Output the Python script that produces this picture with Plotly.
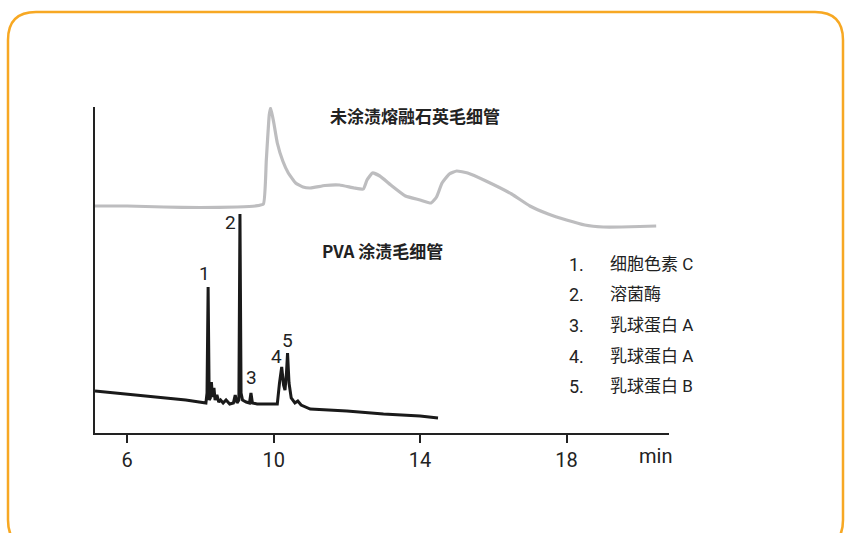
import plotly.graph_objects as go

# ---- data (time in min, detector signal in arbitrary units) ----
uncoated_time = [5.12, 6.0, 7.0, 8.0, 9.0, 9.5, 9.72, 9.80, 9.88, 9.92, 10.0, 10.1, 10.25, 10.4, 10.6,
                 10.8, 11.0, 11.4, 11.8, 12.2, 12.45, 12.55, 12.7, 12.9, 13.2, 13.6, 14.0, 14.3,
                 14.45, 14.6, 14.8, 15.0, 15.3, 15.8, 16.5, 17.0, 17.5, 18.0, 18.5, 19.0, 19.5,
                 20.0, 20.45]
uncoated_signal = [227, 227, 226, 225.5, 226, 227, 229, 273, 318, 325, 311, 290, 272, 260, 250,
                   246, 245, 247.5, 248, 245, 244, 253, 260, 257, 248, 237, 233, 230,
                   236, 250, 259, 262, 260, 252, 239, 227, 219, 213, 208, 206, 206,
                   206.5, 207]

pva_time = [5.12, 6.0, 7.0, 7.6, 8.15, 8.18, 8.21, 8.24, 8.27, 8.30, 8.33, 8.37, 8.40, 8.45, 8.50,
            8.55, 8.62, 8.70, 8.80, 8.90, 8.95, 9.00, 9.05, 9.08, 9.11, 9.15, 9.25, 9.34, 9.38,
            9.42, 9.55, 9.8, 10.1, 10.16, 10.22, 10.27, 10.31, 10.35, 10.38, 10.42, 10.48,
            10.58, 10.66, 10.75, 11.0, 12.0, 13.0, 14.0, 14.49]
pva_signal = [42, 39, 35, 33, 30, 40, 146, 33, 35, 51, 36, 45, 33, 38, 31,
              33, 30, 33, 29, 30, 38, 30, 33, 219, 40, 33, 31, 30, 40,
              30, 29, 29, 29, 50, 66, 48, 43, 60, 80, 50, 35,
              30, 32, 28, 24, 22, 19, 17, 15]

peak_labels = ["1", "2", "3", "4", "5"]
peak_label_time = [8.12, 8.83, 9.40, 10.09, 10.39]
peak_label_signal = [160, 211, 56, 77, 93]

legend_numbers = ["1.", "2.", "3.", "4.", "5."]
legend_names = ["细胞色素 C", "溶菌酶", "乳球蛋白 A", "乳球蛋白 A", "乳球蛋白 B"]

title_uncoated = "未涂渍熔融石英毛细管"
title_pva = "PVA 涂渍毛细管"
x_ticks = [6, 10, 14, 18]
x_unit = "min"

# ---- layout geometry ----
W, H = 846, 533
ML, MR, MT, MB = 95, 177, 107, 100
PW, PH = W - ML - MR, H - MT - MB

def px(x):
    return (x - ML) / PW

def py(y):
    return (H - MB - y) / PH

NARROW = "Roboto, Noto Sans CJK SC, sans-serif"
CJK = "Noto Sans CJK SC, sans-serif"

fig = go.Figure()
fig.add_trace(go.Scatter(x=uncoated_time, y=uncoated_signal, mode="lines",
                         line=dict(color="#BDBDBF", width=3.2, shape="spline", smoothing=0.4),
                         hoverinfo="skip", showlegend=False))
fig.add_trace(go.Scatter(x=pva_time, y=pva_signal, mode="lines",
                         line=dict(color="#1A1A1A", width=3),
                         hoverinfo="skip", showlegend=False))

ann = []
for lab, t, s in zip(peak_labels, peak_label_time, peak_label_signal):
    ann.append(dict(x=t, y=s, text=lab, showarrow=False, xanchor="center", yanchor="middle",
                    font=dict(family=NARROW, size=19, color="#222")))

ann.append(dict(x=13.86, y=318, text="<b>" + title_uncoated + "</b>", showarrow=False,
                xanchor="center", yanchor="middle", font=dict(family=CJK, size=17, color="#222")))
ann.append(dict(x=12.96, y=183, text="<b>" + title_pva + "</b>", showarrow=False,
                xanchor="center", yanchor="middle", font=dict(family=CJK, size=17, color="#222")))

row_y = [264, 294, 325, 356, 386]
for num, name, ry in zip(legend_numbers, legend_names, row_y):
    ann.append(dict(xref="paper", yref="paper", x=px(567), y=py(ry), text=num, showarrow=False,
                    xanchor="left", yanchor="middle", font=dict(family=NARROW, size=18, color="#222")))
    ann.append(dict(xref="paper", yref="paper", x=px(608), y=py(ry), text=name, showarrow=False,
                    xanchor="left", yanchor="middle", font=dict(family=NARROW, size=17, color="#222")))

ann.append(dict(xref="paper", yref="paper", x=px(655), y=py(456), text=x_unit, showarrow=False,
                xanchor="center", yanchor="middle", font=dict(family=NARROW, size=20, color="#222")))

# rounded border
L, R, T, B, r = px(8), px(843), py(12), py(548), 28
rx, ry_ = r / PW, r / PH
path = (f"M {L+rx},{T} L {R-rx},{T} Q {R},{T} {R},{T-ry_} L {R},{B+ry_} Q {R},{B} {R-rx},{B} "
        f"L {L+rx},{B} Q {L},{B} {L},{B+ry_} L {L},{T-ry_} Q {L},{T} {L+rx},{T} Z")
shapes = [dict(type="path", xref="paper", yref="paper", path=path,
               line=dict(color="#F7A823", width=2.5), layer="below")]

fig.update_layout(
    width=W, height=H, margin=dict(l=ML, r=MR, t=MT, b=MB),
    paper_bgcolor="white", plot_bgcolor="white",
    annotations=ann, shapes=shapes,
    xaxis=dict(range=[5.12, 20.80], showgrid=False, zeroline=False, showline=True,
               linecolor="#222", linewidth=1.5, ticks="outside", ticklen=8, tickwidth=1.5,
               tickcolor="#222", tickvals=x_ticks, ticktext=[str(v) for v in x_ticks],
               tickfont=dict(family=NARROW, size=20, color="#222")),
    yaxis=dict(range=[0, 326], showgrid=False, zeroline=False, showline=True,
               linecolor="#222", linewidth=1.5, showticklabels=False, ticks=""),
)

fig.write_html("out.html")
